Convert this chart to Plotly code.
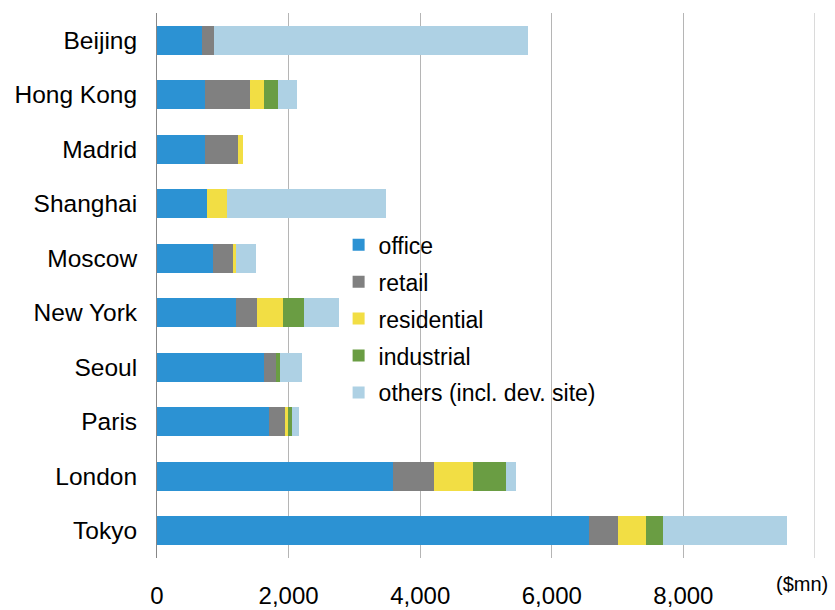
import plotly.graph_objects as go

# Investment volume by city and property type ($mn)
cities = ["Beijing", "Hong Kong", "Madrid", "Shanghai", "Moscow",
          "New York", "Seoul", "Paris", "London", "Tokyo"]
office = [685, 736, 730, 756, 858, 1207, 1627, 1709, 3581, 6563]
retail = [177, 679, 502, 0, 293, 314, 189, 238, 634, 448]
residential = [0, 212, 76, 315, 56, 395, 0, 51, 580, 422]
industrial = [0, 213, 0, 0, 0, 320, 50, 51, 508, 251]
others = [4776, 285, 0, 2407, 290, 527, 345, 106, 152, 1886]

tick_values = [0, 2000, 4000, 6000, 8000]
tick_labels = ["0", "2,000", "4,000", "6,000", "8,000"]

series = [
    ("office", office, "#2C92D3"),
    ("retail", retail, "#808080"),
    ("residential", residential, "#F2DE44"),
    ("industrial", industrial, "#6A9D43"),
    ("others (incl. dev. site)", others, "#AED1E4"),
]

FONT = "Liberation Sans, Arial, sans-serif"

fig = go.Figure()
for name, vals, color in series:
    fig.add_trace(go.Bar(
        y=cities, x=vals, name=name, orientation="h",
        marker=dict(color=color, line=dict(width=0)),
        legendgroup=name,
    ))

fig.update_layout(
    width=835, height=610,
    margin=dict(l=157, r=20, t=13, b=52),
    barmode="stack",
    bargap=0.463,
    plot_bgcolor="white",
    paper_bgcolor="white",
    font=dict(family=FONT, color="#000000"),
    legend=dict(
        x=0.276, y=0.614, xanchor="left", yanchor="top",
        traceorder="grouped",
        tracegroupgap=4,
        font=dict(size=23, family=FONT),
        bgcolor="rgba(0,0,0,0)",
        itemwidth=30,
    ),
    xaxis=dict(
        range=[0, 10000],
        tickvals=tick_values, ticktext=tick_labels,
        showgrid=True, gridcolor="#B5B5B5", gridwidth=1,
        zeroline=False, showline=False,
        tickfont=dict(size=24, family=FONT),
        ticks="", ticklabelstandoff=21,
        automargin=False,
    ),
    yaxis=dict(
        categoryorder="array", categoryarray=cities,
        autorange="reversed",
        showgrid=False, zeroline=False,
        showline=True, linecolor="#878787", linewidth=1,
        tickfont=dict(size=24.5, family=FONT),
        ticks="", ticklabelstandoff=14,
        automargin=False,
    ),
    showlegend=True,
)

# right-hand boundary line of the plot area
fig.add_shape(type="line", xref="x", yref="paper", x0=10000, x1=10000,
              y0=0, y1=1, line=dict(color="#B5B5B5", width=1))

fig.add_annotation(
    text="($mn)", xref="paper", yref="paper", x=1.0228, y=-0.048,
    xanchor="right", yanchor="middle", showarrow=False,
    font=dict(size=20, family=FONT),
)

fig.write_html("out.html")
